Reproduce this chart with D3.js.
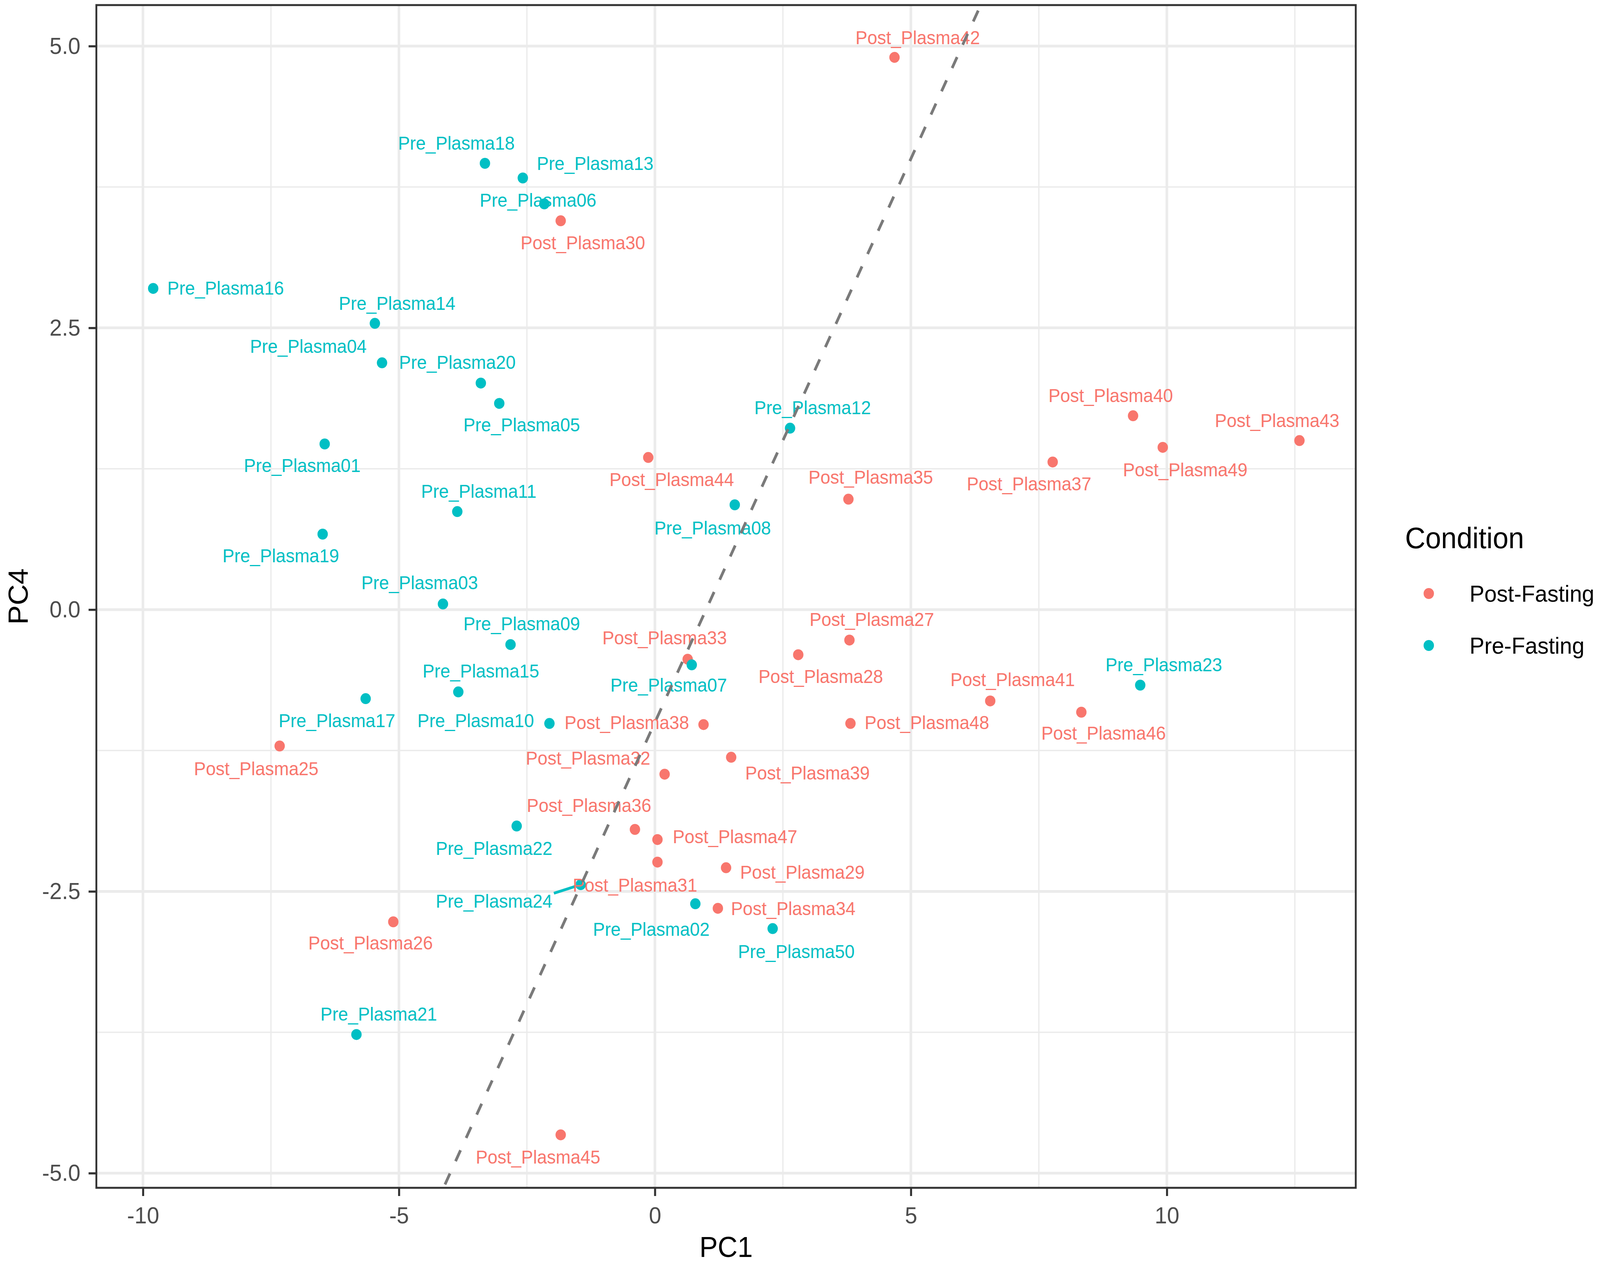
<!DOCTYPE html>
<html><head><meta charset="utf-8">
<script src="https://cdn.jsdelivr.net/npm/d3@7"></script>
<style>
html,body{margin:0;padding:0;background:#fff;overflow:hidden;width:100%;height:100%;}
svg{display:block;width:100vw;height:100vh;font-family:"Liberation Sans",Arial,Helvetica,sans-serif;}
</style>
</head><body>
<svg id="chart"></svg>
<script>
// ---------------- data ----------------
const samples = [
"Pre_Plasma16","Pre_Plasma18","Pre_Plasma13","Pre_Plasma06","Post_Plasma30","Post_Plasma42",
"Pre_Plasma14","Pre_Plasma04","Pre_Plasma20","Pre_Plasma05","Pre_Plasma01","Post_Plasma44",
"Pre_Plasma12","Pre_Plasma11","Pre_Plasma08","Post_Plasma35","Post_Plasma40","Post_Plasma49",
"Post_Plasma43","Post_Plasma37","Pre_Plasma19","Pre_Plasma03","Pre_Plasma09","Post_Plasma33",
"Pre_Plasma07","Post_Plasma28","Post_Plasma27","Pre_Plasma23","Post_Plasma41","Post_Plasma46",
"Post_Plasma48","Pre_Plasma17","Pre_Plasma15","Pre_Plasma10","Post_Plasma38","Post_Plasma25",
"Post_Plasma39","Post_Plasma32","Pre_Plasma22","Post_Plasma36","Post_Plasma47","Post_Plasma31",
"Post_Plasma29","Pre_Plasma24","Pre_Plasma02","Post_Plasma34","Pre_Plasma50","Post_Plasma26",
"Pre_Plasma21","Post_Plasma45"];
const condition = samples.map(s => s.startsWith("Pre") ? "Pre-Fasting" : "Post-Fasting");
const pc1 = [
-9.80,-3.32,-2.58,-2.16,-1.84,4.68,
-5.47,-5.33,-3.40,-3.04,-6.45,-0.13,
2.64,-3.86,1.56,3.78,9.34,9.92,
12.59,7.77,-6.49,-4.14,-2.82,0.64,
0.72,2.80,3.80,9.48,6.55,8.33,
3.82,-5.65,-3.84,-2.06,0.95,-7.33,
1.49,0.19,-2.70,-0.39,0.05,0.05,
1.39,-1.45,0.79,1.23,2.30,-5.11,
-5.83,-1.84];
const pc4 = [
2.85,3.96,3.83,3.60,3.45,4.90,
2.54,2.19,2.01,1.83,1.47,1.35,
1.61,0.87,0.93,0.98,1.72,1.44,
1.50,1.31,0.67,0.05,-0.31,-0.44,
-0.49,-0.40,-0.27,-0.67,-0.81,-0.91,
-1.01,-0.79,-0.73,-1.01,-1.02,-1.21,
-1.31,-1.46,-1.92,-1.95,-2.04,-2.24,
-2.29,-2.44,-2.61,-2.65,-2.83,-2.77,
-3.77,-4.66];
// repelled label centres (data units)
const labelPC1 = [
-8.385,-3.878,-1.167,-2.283,-1.406,5.135,
-5.035,-6.770,-3.858,-2.602,-6.889,0.329,
3.081,-3.440,1.127,4.217,8.903,10.359,
12.154,7.308,-7.308,-4.596,-2.602,0.189,
0.269,3.240,4.237,9.940,6.989,8.764,
5.314,-6.211,-3.400,-3.500,-0.548,-7.787,
2.981,-1.306,-3.141,-1.286,1.565,-0.389,
2.881,-3.141,-0.070,2.702,2.762,-5.553,
-5.394,-2.283];
const labelPC4 = [
2.853,4.141,3.960,3.635,3.254,5.076,
2.719,2.338,2.195,1.641,1.279,1.155,
1.794,1.050,0.725,1.174,1.899,1.240,
1.679,1.116,0.477,0.239,-0.124,-0.248,
-0.668,-0.592,-0.086,-0.487,-0.620,-1.097,
-1.002,-0.983,-0.544,-0.983,-1.002,-1.412,
-1.450,-1.317,-2.118,-1.737,-2.013,-2.443,
-2.328,-2.586,-2.834,-2.653,-3.034,-2.958,
-3.588,-4.857];
const conditions = ["Post-Fasting","Pre-Fasting"];
const condColors = ["#F8766D","#00BFC4"];
const xTicks = [-10,-5,0,5,10];
const yTicks = [-5,-2.5,0,2.5,5];
const xMinor = [-7.5,-2.5,2.5,7.5,12.5];
const yMinor = [-3.75,-1.25,1.25,3.75];
const xDomain = [-10.91,13.69];
const yDomain = [-5.13,5.364];
const refSlope = 1, refIntercept = -1;

// ---------------- layout ----------------
const W = 4317, H = 3235;
const P = {left:260, right:3658, top:13, bottom:3040};
const svg = d3.select("#chart").attr("viewBox",`0 0 ${W} ${H}`).attr("preserveAspectRatio","none");
svg.append("rect").attr("width",W).attr("height",H).attr("fill","#fff");

const x = d3.scaleLinear().domain(xDomain).range([P.left,P.right]);
const y = d3.scaleLinear().domain(yDomain).range([P.bottom,P.top]);
const color = d3.scaleOrdinal().domain(conditions).range(condColors);

svg.append("defs").append("clipPath").attr("id","panelClip")
  .append("rect").attr("x",P.left).attr("y",P.top)
  .attr("width",P.right-P.left).attr("height",P.bottom-P.top);

const grid = svg.append("g");
grid.selectAll(".xminor").data(xMinor).join("line")
  .attr("x1",d=>x(d)).attr("x2",d=>x(d)).attr("y1",P.top).attr("y2",P.bottom)
  .attr("stroke","#EBEBEB").attr("stroke-width",3.5);
grid.selectAll(".yminor").data(yMinor).join("line")
  .attr("y1",d=>y(d)).attr("y2",d=>y(d)).attr("x1",P.left).attr("x2",P.right)
  .attr("stroke","#EBEBEB").attr("stroke-width",3.5);
grid.selectAll(".xmajor").data(xTicks).join("line")
  .attr("x1",d=>x(d)).attr("x2",d=>x(d)).attr("y1",P.top).attr("y2",P.bottom)
  .attr("stroke","#EBEBEB").attr("stroke-width",7);
grid.selectAll(".ymajor").data(yTicks).join("line")
  .attr("y1",d=>y(d)).attr("y2",d=>y(d)).attr("x1",P.left).attr("x2",P.right)
  .attr("stroke","#EBEBEB").attr("stroke-width",7);

// axes
const xAxis = svg.append("g").attr("transform",`translate(0,${P.bottom})`)
  .call(d3.axisBottom(x).tickValues(xTicks).tickSize(21).tickPadding(27).tickFormat(d=>String(d)));
const yAxis = svg.append("g").attr("transform",`translate(${P.left},0)`)
  .call(d3.axisLeft(y).tickValues(yTicks).tickSize(21).tickPadding(22).tickFormat(d=>d.toFixed(1)));
[xAxis,yAxis].forEach(a=>{
  a.select(".domain").remove();
  a.selectAll(".tick line").attr("stroke","#333333").attr("stroke-width",5.5);
  a.selectAll(".tick text").attr("fill","#4D4D4D").attr("font-size",60)
    .attr("font-family",'"Liberation Sans",Arial,Helvetica,sans-serif');
});

const data = samples.map((s,i)=>({name:s, cond:condition[i], px:pc1[i], py:pc4[i], lx:labelPC1[i], ly:labelPC4[i]}));

const plot = svg.append("g").attr("clip-path","url(#panelClip)");
const segG = plot.append("g");
plot.append("g").selectAll("circle").data(data).join("circle")
  .attr("cx",d=>x(d.px)).attr("cy",d=>y(d.py)).attr("r",14)
  .attr("fill",d=>color(d.cond));
const labels = plot.append("g").selectAll("text").data(data).join("text")
  .attr("x",d=>x(d.lx)).attr("y",d=>y(d.ly)).attr("dy","0.35em")
  .attr("text-anchor","middle").attr("font-size",48)
  .attr("fill",d=>color(d.cond)).text(d=>d.name);

// leader segments for labels far from their point
labels.each(function(d){
  const w = this.getComputedTextLength();
  const cx = x(d.lx), cy = y(d.ly);
  const x0 = cx-w/2-4, x1 = cx+w/2+4, y0 = cy-20, y1 = cy+20;
  const px = x(d.px), py = y(d.py);
  const nx = Math.max(x0, Math.min(px, x1)), ny = Math.max(y0, Math.min(py, y1));
  const dist = Math.hypot(px-nx, py-ny);
  if (dist > 60) {
    segG.append("line").attr("x1",px).attr("y1",py).attr("x2",nx).attr("y2",ny)
      .attr("stroke",color(d.cond)).attr("stroke-width",7);
  }
});

// reference dashed line
const lineX = [xDomain[0], xDomain[1]];
plot.append("line")
  .attr("x1",x(lineX[0])).attr("y1",y(refSlope*lineX[0]+refIntercept))
  .attr("x2",x(lineX[1])).attr("y2",y(refSlope*lineX[1]+refIntercept))
  .attr("stroke","#7A7A7A").attr("stroke-width",7.5).attr("stroke-dasharray","31,35");

// panel border
svg.append("rect").attr("x",P.left).attr("y",P.top)
  .attr("width",P.right-P.left).attr("height",P.bottom-P.top)
  .attr("fill","none").attr("stroke","#333333").attr("stroke-width",5);

// axis titles
svg.append("text").attr("x",(P.left+P.right)/2).attr("y",3217)
  .attr("text-anchor","middle").attr("font-size",74).attr("fill","#000").text("PC1");
svg.append("text").attr("transform",`translate(75,${(P.top+P.bottom)/2}) rotate(-90)`)
  .attr("text-anchor","middle").attr("font-size",74).attr("fill","#000").text("PC4");

// legend
const leg = svg.append("g");
leg.append("text").attr("x",3791).attr("y",1403).attr("font-size",76).attr("fill","#000").text("Condition");
const legY = d3.scalePoint().domain(conditions).range([1519,1652]);
leg.selectAll("circle").data(conditions).join("circle")
  .attr("cx",3855).attr("cy",d=>legY(d)).attr("r",14).attr("fill",d=>color(d));
leg.selectAll("text.item").data(conditions).join("text").attr("class","item")
  .attr("x",3965).attr("y",d=>legY(d)).attr("dy","0.35em")
  .attr("font-size",60).attr("fill","#000").text(d=>d);
</script>
</body></html>
